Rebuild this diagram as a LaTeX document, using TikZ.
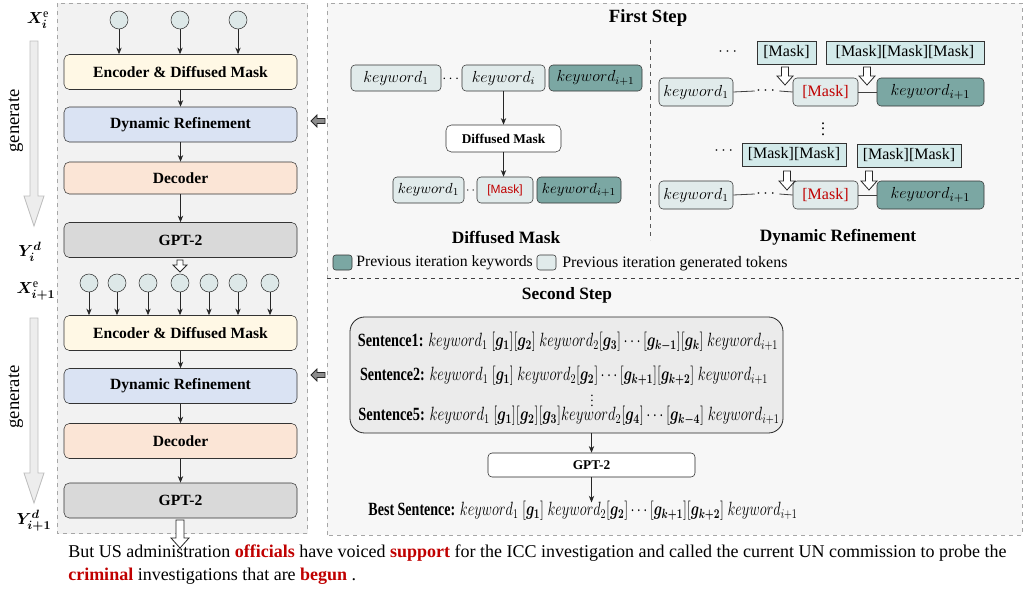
\documentclass[tikz,border=0pt]{standalone}
\usepackage{amsmath}
\usepackage{bm}
\usepackage{graphicx}
\usepackage{fontspec}
\setmainfont{Liberation Serif}
\newfontfamily\arialf{Liberation Sans}
\usetikzlibrary{arrows.meta}
\definecolor{encf}{HTML}{FFF8E5}
\definecolor{dynf}{HTML}{DAE3F3}
\definecolor{decf}{HTML}{FBE5D6}
\definecolor{gptf}{HTML}{D9D9D9}
\definecolor{circf}{HTML}{DDE8E8}
\definecolor{kwlf}{HTML}{E1EBEB}
\definecolor{kwdf}{HTML}{7BA7A3}
\definecolor{maskf}{HTML}{D3EAEA}
\definecolor{redt}{HTML}{C00000}
\definecolor{panelL}{HTML}{F2F2F2}
\definecolor{panelR}{HTML}{F7F7F7}
\definecolor{sentf}{HTML}{EBEBEB}
\newcommand\fs[1]{\fontsize{#1}{#1}\selectfont}
\newcommand\hdown[7]{%
\draw[#1] ({#2-#5},#3) -- ({#2+#5},#3) -- ({#2+#5},{#4-#7}) -- ({#2+#6},{#4-#7}) -- (#2,#4) -- ({#2-#6},{#4-#7}) -- ({#2-#5},{#4-#7}) -- cycle;}
\newcommand\hleft[7]{%
\draw[#1] (#3,{#2-#5}) -- (#3,{#2+#5}) -- ({#4+#7},{#2+#5}) -- ({#4+#7},{#2+#6}) -- (#4,#2) -- ({#4+#7},{#2-#6}) -- ({#4+#7},{#2-#5}) -- cycle;}
\begin{document}
\begin{tikzpicture}[x=0.75pt,y=-0.75pt,
  >={Stealth[length=5pt,width=4pt]},
  blk/.style={draw=black!80, rounded corners=4pt, minimum width=174.75pt, minimum height=26.25pt, font=\bfseries\fs{11.7}},
  circ/.style={circle, draw=black!80, fill=circf, minimum size=13.5pt, inner sep=0pt},
  kw/.style={draw=black!80, rounded corners=3pt, minimum height=19.5pt, inner sep=0pt, font=\fs{12}},
  kwl/.style={kw, fill=kwlf},
  kwd/.style={kw, fill=kwdf},
  mtop/.style={draw=black!80, fill=maskf, minimum height=17.25pt, inner sep=0pt, font=\fs{12}},
  lab/.style={font=\fs{13}, inner sep=0pt},
  captxt/.style={font=\bfseries\fs{13}},
  conn/.style={->, draw=black!85, line width=0.6pt},
  hol/.style={draw=black!85, fill=white, line width=0.6pt},
  gen/.style={draw=black!25, fill=black!7, line width=0.6pt},
  sent/.style={font=\fs{14}, inner sep=0pt}
]
\useasboundingbox (0,0) rectangle (1024,589);
% panels
\draw[panelL, fill=panelL] (57,3) rectangle (307,533);
\draw[black!35, dashed, line width=0.6pt] (57,3) rectangle (307,533);
\fill[panelR] (327,3) rectangle (1022,535);
\draw[black!35, dashed, line width=0.6pt] (327,535) -- (327,3) -- (1022,3) -- (1022,535) -- cycle;
\draw[black!75, dashed, line width=0.7pt] (327,278) -- (1022,278);
\draw[black!65, dashed, line width=0.7pt] (650,40) -- (650,240);

% ---------- left column ----------
\node[blk, fill=encf] (enc1) at (180.5,72) {Encoder \& Diffused Mask};
\node[blk, fill=dynf] (dyn1) at (180.5,124.5) {Dynamic Refinement};
\node[blk, fill=decf, minimum height=24pt] (dec1) at (180.5,178) {Decoder};
\node[blk, fill=gptf] (gpt1) at (180.5,240) {GPT-2};
\foreach \n/\x in {1/119,2/180,3/238}{
  \node[circ] (ca\n) at (\x,20) {};
  \draw[conn] (ca\n.south) -- (ca\n.south |- enc1.north);
}
\draw[conn] (enc1) -- (dyn1);
\draw[conn] (dyn1) -- (dec1);
\draw[conn] (dec1) -- (gpt1);
\hdown{hol}{180}{260}{272}{3}{7}{7}

\node[blk, fill=encf] (enc2) at (180.5,333) {Encoder \& Diffused Mask};
\node[blk, fill=dynf] (dyn2) at (180.5,386) {Dynamic Refinement};
\node[blk, fill=decf] (dec2) at (180.5,441) {Decoder};
\node[blk, fill=gptf] (gpt2) at (180.5,500.5) {GPT-2};
\foreach \n/\x in {1/89,2/117,3/148,4/180,5/209,6/238,7/270}{
  \node[circ] (cb\n) at (\x,283) {};
  \draw[conn] (cb\n.south) -- (cb\n.south |- enc2.north);
}
\draw[conn] (enc2) -- (dyn2);
\draw[conn] (dyn2) -- (dec2);
\draw[conn] (dec2) -- (gpt2);
\hdown{hol}{180}{520}{548}{4}{9}{10}

% labels
\node[lab] (lx1) at (38,20) {$\bm{X}_{\bm{i}}^{\mathrm{e}}$};
\node[lab] (ly1) at (30,252) {$\bm{Y}_{\bm{i}}^{\bm{d}}$};
\node[lab] (lx2) at (36,291) {$\bm{X}_{\bm{i+1}}^{\mathrm{e}}$};
\node[lab] (ly2) at (34,521) {$\bm{Y}_{\bm{i+1}}^{\bm{d}}$};
\hdown{gen}{34}{41}{226}{4}{10}{30}
\hdown{gen}{34}{318}{503}{4}{10}{30}
\node[font=\fs{14}, rotate=90] (g1) at (16,121) {generate};
\node[font=\fs{14}, rotate=90] (g2) at (16,397) {generate};

% left-pointing arrows
\hleft{draw=black!85, fill=black!45, line width=0.6pt}{121}{325}{311}{2.5}{6}{6}
\hleft{draw=black!85, fill=black!45, line width=0.6pt}{375}{325}{311}{2.5}{6}{6}

% ---------- First Step ----------
\node[font=\bfseries\fs{14}] (fs) at (648,18) {First Step};
% diffused mask
\node[kwl, minimum width=67.5pt] (a1) at (396,78) {$keyword_1$};
\node[font=\fs{11}] (ad) at (452,79) {$\cdots$};
\node[kwl, minimum width=62.25pt] (ai) at (503.5,78) {$keyword_i$};
\node[kwd, minimum width=69.75pt] (ai1) at (595.5,78) {$keyword_{i+1}$};
\node[draw=black!80, fill=white, rounded corners=4pt, minimum width=86.25pt, minimum height=20.25pt, font=\bfseries\fs{10}] (dm) at (503.5,138.5) {Diffused Mask};
\node[kwl, minimum width=53.25pt, font=\fs{11}] (b1) at (428.5,190) {$keyword_1$};
\node[font=\fs{9}, inner sep=0pt] (bd) at (470.5,191) {$\cdot\,\cdot$};
\node[kwl, minimum width=42pt, font=\arialf\fs{9}, text=redt] (bm) at (505,190) {[Mask]};
\node[kwd, minimum width=63pt, font=\fs{11}] (bi1) at (579,190) {$keyword_{i+1}$};
\draw[conn] (ai.south) -- (dm.north);
\draw[conn] (dm.south) -- (dm.south |- bm.north);
\node[captxt] (dmc) at (506,237) {Diffused Mask};
% legend
\node[draw=black!80, fill=kwdf, rounded corners=2pt, minimum width=14.25pt, minimum height=11.25pt, inner sep=0pt] (lg1) at (342.5,262.5) {};
\node[anchor=west, font=\fs{11.8}, inner sep=0pt] (lt1) at (356,263) {Previous iteration keywords};
\node[draw=black!80, fill=kwlf, rounded corners=2pt, minimum width=14.25pt, minimum height=11.25pt, inner sep=0pt] (lg2) at (546.5,262.5) {};
\node[anchor=west, font=\fs{12}, inner sep=0pt] (lt2) at (562,264) {Previous iteration generated tokens};

% dynamic refinement row 1
\node[font=\fs{12}] (td1) at (729,52) {$\cdots$};
\node[mtop, minimum width=44.25pt] (tm1) at (786.5,52.5) {[Mask]};
\node[mtop, minimum width=118.5pt] (tm3) at (905,52.5) {[Mask][Mask][Mask]};
\node[kwl, minimum width=55.5pt, minimum height=21pt] (r1k) at (696,92) {$keyword_1$};
\node[font=\fs{12}, inner sep=1pt] (r1d) at (767,91) {$\cdots$};
\node[kwl, minimum width=48.75pt, minimum height=21pt, font=\fs{12}, text=redt] (r1m) at (825.5,92) {[Mask]};
\node[kwd, minimum width=80.25pt, minimum height=21pt, font=\fs{12.5}] (r1i) at (930.5,92) {$keyword_{i+1}$};
\draw[black!75, line width=0.6pt] (r1k.east) -- (r1d.west);
\draw[black!75, line width=0.6pt] (r1d.east) -- (r1m.west);
\draw[black!75, line width=0.6pt] (r1m.east) -- (r1i.west);
\hdown{hol}{785}{67}{85}{3.5}{8}{9}
\hdown{hol}{867}{67}{85}{3.5}{8}{9}
\node[font=\fs{12}, inner sep=0pt] (vd1) at (823,125) {$\vdots$};
% row 2
\node[font=\fs{12}] (td2) at (725,151) {$\cdots$};
\node[mtop, minimum width=78pt] (tm2a) at (794,154.5) {[Mask][Mask]};
\node[mtop, minimum width=78pt] (tm2b) at (909,155.5) {[Mask][Mask]};
\node[kwl, minimum width=55.5pt, minimum height=21pt] (r2k) at (696,195) {$keyword_1$};
\node[font=\fs{12}, inner sep=1pt] (r2d) at (767,194) {$\cdots$};
\node[kwl, minimum width=48.75pt, minimum height=21pt, font=\fs{12}, text=redt] (r2m) at (825.5,195) {[Mask]};
\node[kwd, minimum width=80.25pt, minimum height=21pt, font=\fs{12.5}] (r2i) at (930.5,195) {$keyword_{i+1}$};
\draw[black!75, line width=0.6pt] (r2k.east) -- (r2d.west);
\draw[black!75, line width=0.6pt] (r2d.east) -- (r2m.west);
\draw[black!75, line width=0.6pt] (r2m.east) -- (r2i.west);
\hdown{hol}{787}{171}{190}{3.5}{8}{9}
\hdown{hol}{869}{171}{190}{3.5}{8}{9}
\node[captxt] (drc) at (838,237) {Dynamic Refinement};

% ---------- Second Step ----------
\node[captxt] (ss) at (567,295) {Second Step};
\node[draw=black!85, fill=sentf, rounded corners=11pt, minimum width=324.75pt, minimum height=87pt, line width=0.6pt] (sb) at (566.5,375) {};
\node[sent] (s1) at (568,342) {\resizebox{315pt}{\height}{\textbf{Sentence1:} $keyword_1\ [\bm{g_1}][\bm{g_2}]\ keyword_2[\bm{g_3}]\cdots[\bm{g_{k-1}}][\bm{g_k}]\ keyword_{i+1}$}};
\node[sent] (s2) at (564,376) {\resizebox{306pt}{\height}{\textbf{Sentence2:} $keyword_1\ [\bm{g_1}]\ keyword_2[\bm{g_2}]\cdots[\bm{g_{k+1}}][\bm{g_{k+2}}]\ keyword_{i+1}$}};
\node[font=\fs{10}, inner sep=0pt] (s3) at (592,397) {$\vdots$};
\node[sent] (s5) at (569,416) {\resizebox{315.75pt}{\height}{\textbf{Sentence5:} $keyword_1\ [\bm{g_1}][\bm{g_2}][\bm{g_3}]keyword_2[\bm{g_4}]\cdots[\bm{g_{k-4}}]\ keyword_{i+1}$}};
\node[draw=black!85, fill=white, rounded corners=3pt, minimum width=155.25pt, minimum height=18pt, font=\bfseries\fs{10}] (gp) at (591.5,465) {GPT-2};
\node[sent] (best) at (583,511) {\resizebox{321.75pt}{\height}{\textbf{Best Sentence:} $keyword_1\ [\bm{g_1}]\ keyword_2[\bm{g_2}]\cdots[\bm{g_{k+1}}][\bm{g_{k+2}}]\ keyword_{i+1}$}};
\draw[conn] (sb.south -| gp.north) -- (gp.north);
\draw[conn] (gp.south) -- ([yshift=-1pt]gp.south |- best.north);

% ---------- bottom text ----------
\node[anchor=west, inner sep=0pt, font=\fs{13.5}] (t1) at (68,553) {But US administration \textcolor{redt}{\textbf{officials}} have voiced \textcolor{redt}{\textbf{support}} for the ICC investigation and called the current UN commission to probe the};
\node[anchor=west, inner sep=0pt, font=\fs{13.5}] (t2) at (68,576) {\textcolor{redt}{\textbf{criminal}} investigations that are \textcolor{redt}{\textbf{begun}} .};
\end{tikzpicture}
\end{document}
